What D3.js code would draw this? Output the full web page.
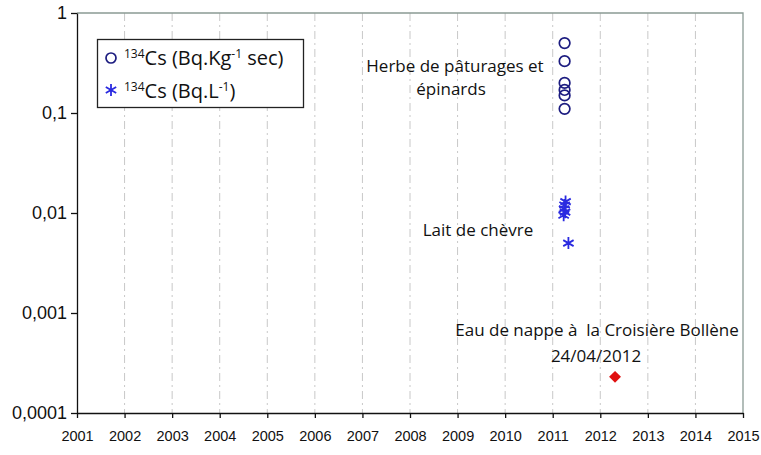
<!DOCTYPE html>
<html>
<head>
<meta charset="utf-8">
<script src="https://cdn.jsdelivr.net/npm/d3@7"></script>
<style>
  body { margin: 0; background: #fff; }
  svg { display: block; font-family: "Open Sans", "Noto Sans", sans-serif; }
</style>
</head>
<body>
<svg id="chart" width="761" height="455"></svg>
<script>
// data
let years = d3.range(2001, 2016);
let yTicks = [1, 0.1, 0.01, 0.001, 0.0001];
let yTickLabels = ["1", "0,1", "0,01", "0,001", "0,0001"];

// 134Cs pasture grass + spinach (Bq/kg dry)
let herbeX = [2011.25, 2011.25, 2011.25, 2011.25, 2011.25, 2011.25];
let herbeY = [0.5, 0.33, 0.2, 0.17, 0.15, 0.11];

// 134Cs goat milk (Bq/L)
let laitX = [2011.27, 2011.25, 2011.24, 2011.26, 2011.23, 2011.33];
let laitY = [0.013, 0.012, 0.011, 0.0102, 0.0095, 0.005];

// ground water, 24/04/2012
let eauX = [2012.31];
let eauY = [0.00023];

const svg = d3.select("#chart");
let margin = { top: 13, right: 18, bottom: 42, left: 77 };
let width = 761, height = 455;

let x = d3.scaleLinear()
  .domain([2001, 2015])
  .range([margin.left, width - margin.right]);

let y = d3.scaleLog()
  .domain([0.0001, 1])
  .range([height - margin.bottom, margin.top]);

// dashed vertical grid
svg.append("g")
  .selectAll("line")
  .data(years.slice(1, -1))
  .join("line")
  .attr("x1", d => x(d)).attr("x2", d => x(d))
  .attr("y1", margin.top).attr("y2", height - margin.bottom)
  .attr("stroke", "#c8c8c8")
  .attr("stroke-width", 1)
  .attr("stroke-dasharray", "8,4,2,4");

// top and right frame
svg.append("path")
  .attr("d", `M${x(2001)},${y(1)}H${x(2015)}V${y(0.0001)}`)
  .attr("fill", "none")
  .attr("stroke", "#8a9a94")
  .attr("stroke-width", 1.3);

let xAxis = g => g
  .attr("transform", `translate(0,${y(0.0001)})`)
  .call(d3.axisBottom(x).tickValues(years).tickFormat(d3.format("d")).tickSize(5).tickSizeOuter(0))
  .call(g => g.selectAll("text").attr("font-size", 14.5).attr("dy", "1.4em").attr("fill", "#111"))
  .call(g => g.selectAll("line, path").attr("stroke", "#111").attr("stroke-width", 1.3));

let yAxis = g => g
  .attr("transform", `translate(${x(2001)},0)`)
  .call(d3.axisLeft(y).tickValues(yTicks).tickFormat((d, i) => yTickLabels[i]).tickSize(6).tickSizeOuter(0))
  .call(g => g.selectAll("text").attr("font-size", 18).attr("x", -10).attr("fill", "#111"))
  .call(g => g.selectAll("line, path").attr("stroke", "#111").attr("stroke-width", 1.3));

svg.append("g").call(xAxis);
svg.append("g").call(yAxis);

// star marker (6 arms)
function starPath(r) {
  let p = "";
  for (let a of [90, 30, -30]) {
    let rad = a * Math.PI / 180;
    let dx = r * Math.cos(rad), dy = r * Math.sin(rad);
    p += `M${-dx},${-dy}L${dx},${dy}`;
  }
  return p;
}

// circles
svg.append("g")
  .selectAll("circle")
  .data(herbeY)
  .join("circle")
  .attr("cx", (d, i) => x(herbeX[i]))
  .attr("cy", d => y(d))
  .attr("r", 5.3)
  .attr("fill", "none")
  .attr("stroke", "#1c1c80")
  .attr("stroke-width", 1.7);

// stars
svg.append("g")
  .selectAll("path")
  .data(laitY)
  .join("path")
  .attr("transform", (d, i) => `translate(${x(laitX[i])},${y(d)})`)
  .attr("d", starPath(6))
  .attr("stroke", "#2a2ae0")
  .attr("stroke-width", 1.8);

// diamond
svg.append("g")
  .selectAll("path")
  .data(eauY)
  .join("path")
  .attr("transform", (d, i) => `translate(${x(eauX[i])},${y(d)})`)
  .attr("d", d3.symbol(d3.symbolDiamond2, 90)())
  .attr("fill", "#e01010");

// annotations
let notes = [
  { t: "Herbe de pâturages et", x: 455, y: 72 },
  { t: "épinards", x: 451, y: 95 },
  { t: "Lait de chèvre", x: 478, y: 236 },
  { t: "Eau de nappe à  la Croisière Bollène", x: 597, y: 336 },
  { t: "24/04/2012", x: 596, y: 362 }
];
svg.append("g")
  .selectAll("text")
  .data(notes)
  .join("text")
  .attr("x", d => d.x).attr("y", d => d.y)
  .attr("text-anchor", "middle")
  .attr("font-size", 17)
  .attr("fill", "#111")
  .style("white-space", "pre")
  .text(d => d.t);

// legend
let legend = svg.append("g");
legend.append("rect")
  .attr("x", 97.5).attr("y", 39.5)
  .attr("width", 206).attr("height", 68)
  .attr("fill", "#fff")
  .attr("stroke", "#222")
  .attr("stroke-width", 1.3);

legend.append("circle")
  .attr("cx", 111).attr("cy", 58).attr("r", 5)
  .attr("fill", "none").attr("stroke", "#1c1c80").attr("stroke-width", 1.7);
legend.append("path")
  .attr("transform", "translate(111,90)")
  .attr("d", starPath(6))
  .attr("stroke", "#2a2ae0").attr("stroke-width", 1.8);

let l1 = legend.append("text").attr("x", 124).attr("y", 65).attr("font-size", 20).attr("fill", "#111");
l1.append("tspan").attr("font-size", 12).attr("dy", -7).text("134");
l1.append("tspan").attr("dy", 7).text("Cs (Bq.Kg");
l1.append("tspan").attr("font-size", 12).attr("dy", -7).text("-1");
l1.append("tspan").attr("dy", 7).text(" sec)");

let l2 = legend.append("text").attr("x", 124).attr("y", 98).attr("font-size", 20).attr("fill", "#111");
l2.append("tspan").attr("font-size", 12).attr("dy", -7).text("134");
l2.append("tspan").attr("dy", 7).text("Cs (Bq.L");
l2.append("tspan").attr("font-size", 12).attr("dy", -7).text("-1");
l2.append("tspan").attr("dy", 7).text(")");
</script>
</body>
</html>
